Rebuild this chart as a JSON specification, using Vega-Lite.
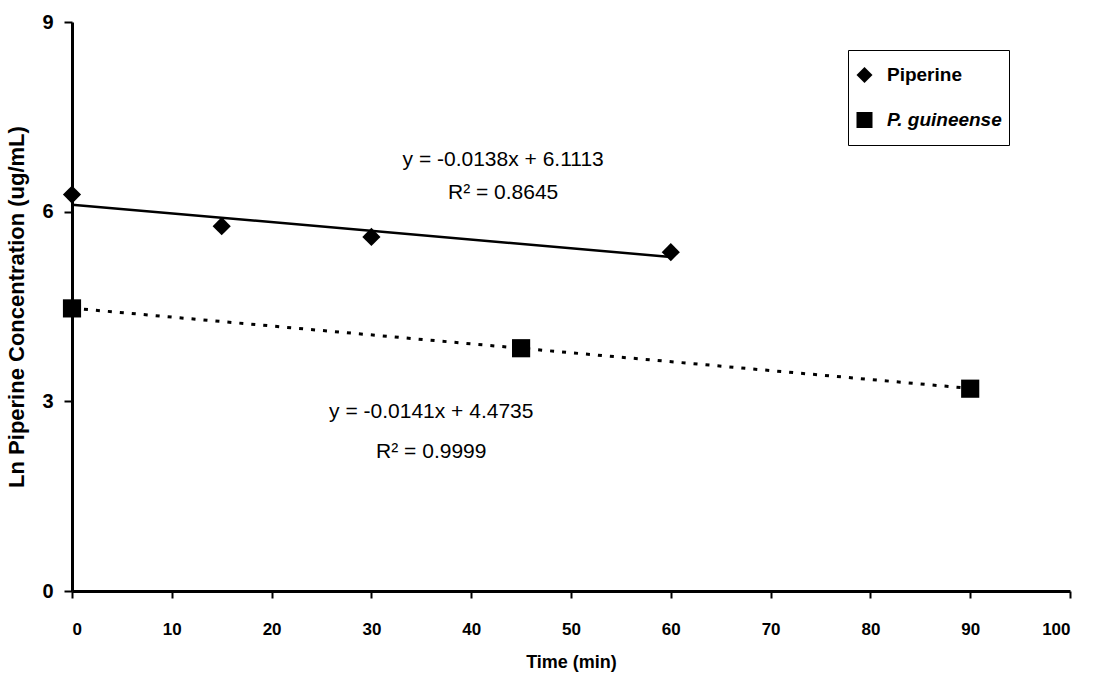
{
  "$schema": "https://vega.github.io/schema/vega-lite/v6.json",
  "autosize": {"type": "none"},
  "padding": {"left": 72, "top": 22, "right": 26, "bottom": 92},
  "width": 998,
  "height": 569,
  "background": "white",
  "datasets": {
    "pts": [
      {"time": 0, "ln": 6.27, "series": "Piperine"},
      {"time": 15, "ln": 5.77, "series": "Piperine"},
      {"time": 30, "ln": 5.60, "series": "Piperine"},
      {"time": 60, "ln": 5.36, "series": "Piperine"},
      {"time": 0, "ln": 4.47, "series": "P. guineense"},
      {"time": 45, "ln": 3.84, "series": "P. guineense"},
      {"time": 90, "ln": 3.20, "series": "P. guineense"}
    ],
    "fit1": [
      {"time": 0, "ln": 6.1113},
      {"time": 60, "ln": 5.2833}
    ],
    "fit2": [
      {"time": 0, "ln": 4.4735},
      {"time": 90, "ln": 3.2045}
    ],
    "eqs": [
      {"time": 43.2, "ln": 6.82, "label": "y = -0.0138x + 6.1113"},
      {"time": 43.2, "ln": 6.30, "label": "R² = 0.8645"},
      {"time": 36, "ln": 2.83, "label": "y = -0.0141x + 4.4735"},
      {"time": 36, "ln": 2.2, "label": "R² = 0.9999"}
    ]
  },
  "layer": [
    {
      "data": {"name": "fit1"},
      "mark": {"type": "line", "color": "black", "strokeWidth": 2.5},
      "encoding": {
        "x": {"field": "time", "type": "quantitative"},
        "y": {"field": "ln", "type": "quantitative"}
      }
    },
    {
      "data": {"name": "fit2"},
      "mark": {"type": "line", "color": "black", "strokeWidth": 3, "strokeDash": [4, 8]},
      "encoding": {
        "x": {"field": "time", "type": "quantitative"},
        "y": {"field": "ln", "type": "quantitative"}
      }
    },
    {
      "data": {"name": "pts"},
      "mark": {"type": "point", "filled": true, "opacity": 1, "color": "black", "size": 330},
      "encoding": {
        "x": {
          "field": "time", "type": "quantitative",
          "scale": {"domain": [0, 100], "nice": false, "zero": false},
          "axis": {
            "values": [0, 10, 20, 30, 40, 50, 60, 70, 80, 90, 100],
            "format": "d",
            "title": "Time (min)",
            "grid": false,
            "domainColor": "black", "domainWidth": 3,
            "tickColor": "black", "tickWidth": 2, "tickSize": 7,
            "labelFont": "Liberation Sans", "labelFontSize": 17, "labelFontWeight": "bold", "labelColor": "black",
            "labelPadding": 23,
            "titleFont": "Liberation Sans", "titleFontSize": 18, "titleFontWeight": "bold", "titleColor": "black",
            "titlePadding": 16
          }
        },
        "y": {
          "field": "ln", "type": "quantitative",
          "scale": {"domain": [0, 9], "nice": false},
          "axis": {
            "values": [0, 3, 6, 9],
            "format": "d",
            "title": "Ln Piperine Concentration (ug/mL)",
            "grid": false,
            "domainColor": "black", "domainWidth": 3,
            "tickColor": "black", "tickWidth": 2, "tickSize": 8,
            "labelFont": "Liberation Sans", "labelFontSize": 20, "labelFontWeight": "bold", "labelColor": "black",
            "labelPadding": 11,
            "titleFont": "Liberation Sans", "titleFontSize": 22, "titleFontWeight": "bold", "titleColor": "black",
            "titlePadding": 13
          }
        },
        "shape": {
          "field": "series", "type": "nominal",
          "scale": {"domain": ["Piperine", "P. guineense"], "range": ["diamond", "square"]},
          "legend": {
            "title": null,
            "orient": "none",
            "legendX": 776,
            "legendY": 28,
            "strokeColor": "black",
            "fillColor": "white",
            "padding": 7,
            "clipHeight": 36,
            "rowPadding": 9,
            "symbolSize": 256,
            "symbolFillColor": "black",
            "symbolStrokeColor": "black",
            "labelFont": "Liberation Sans",
            "labelFontSize": 19,
            "labelFontWeight": "bold",
            "labelColor": "black",
            "labelOffset": 13,
            "labelFontStyle": {"expr": "datum.label === 'P. guineense' ? 'italic' : 'normal'"},
            "encode": {
              "legend": {"update": {"strokeWidth": {"value": 3}}}
            }
          }
        }
      }
    },
    {
      "data": {"name": "eqs"},
      "mark": {"type": "text", "font": "Liberation Sans", "fontSize": 21, "color": "black", "align": "center", "baseline": "middle"},
      "encoding": {
        "x": {"field": "time", "type": "quantitative"},
        "y": {"field": "ln", "type": "quantitative"},
        "text": {"field": "label", "type": "nominal"}
      }
    }
  ],
  "config": {
    "view": {"stroke": null}
  }
}
